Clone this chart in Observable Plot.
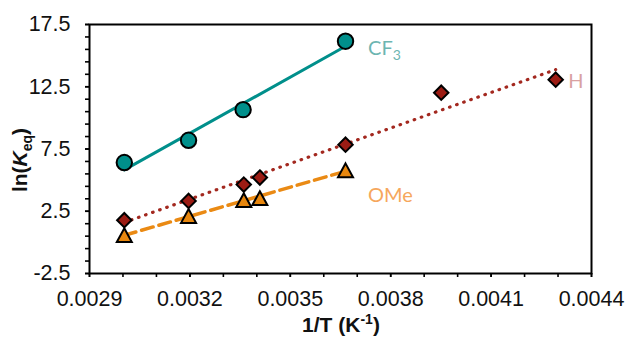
<!DOCTYPE html>
<html><head><meta charset="utf-8">
<script src="https://cdn.jsdelivr.net/npm/d3@7"></script>
<script src="https://cdn.jsdelivr.net/npm/@observablehq/plot@0.6"></script>
<style>
  html,body{margin:0;padding:0;background:#fff}
  #chart{width:627px;height:337px}
</style>
</head><body><div id="chart"></div>
<script>
// ---- data (1/T in K^-1, ln(Keq)) ----
const xTicks = [0.0029, 0.0032, 0.0035, 0.0038, 0.0041, 0.0044];
const xTickLabels = ["0.0029", "0.0032", "0.0035", "0.0038", "0.0041", "0.0044"];
const yTicks = [-2.5, 2.5, 7.5, 12.5, 17.5];
const yTickLabels = ["-2.5", "2.5", "7.5", "12.5", "17.5"];

const seriesNames = ["CF3", "H", "OMe"];

const cf3X = [0.003004, 0.003196, 0.003359, 0.003665];
const cf3Y = [6.41, 8.20, 10.66, 16.16];

const hX = [0.003004, 0.003196, 0.003361, 0.003409, 0.003665, 0.003951, 0.004293];
const hY = [1.78, 3.33, 4.64, 5.21, 7.85, 12.02, 13.07];

const omeX = [0.003004, 0.003196, 0.003361, 0.003409, 0.003665];
const omeY = [0.58, 2.12, 3.39, 3.55, 5.79];

// ---- styles ----
const tealC = "#008f8b", tealLabel = "#6db5b1";
const redFill = "#9c1c14", redLine = "#a3281f", redLabel = "#d9a2a2";
const orFill = "#e8870e", orLine = "#ea8a14", orLabel = "#f6a75c";

const toRows = (xs, ys) => xs.map((x, i) => ({x, y: ys[i]}));
const cf3 = toRows(cf3X, cf3Y), hh = toRows(hX, hY), ome = toRows(omeX, omeY);

const minorX = d3.range(0, 16).map(i => +(0.0029 + i * 0.0001).toFixed(4));
const minorY = d3.range(0, 21).map(i => -2.5 + i);

// triangle centred on its bounding box (as spreadsheet markers are)
const triBox = {
  draw(ctx, size) {
    const r = Math.sqrt(size / Math.PI);
    const hw = 1.25 * r, hh2 = 1.15 * r;
    ctx.moveTo(0, -hh2); ctx.lineTo(hw, hh2); ctx.lineTo(-hw, hh2); ctx.closePath();
  }
};

const chart = Plot.plot({
  width: 627, height: 337,
  marginLeft: 89, marginRight: 36, marginTop: 24, marginBottom: 64,
  x: {domain: [0.0029, 0.0044]},
  y: {domain: [-2.5, 17.5]},
  style: {fontFamily: "'Liberation Sans', Arial, sans-serif", fontSize: "21.5px", color: "#000", background: "#fff"},
  marks: [
    Plot.axisX(minorX, {tickSize: 4, strokeWidth: 1.6, tickFormat: () => "", label: null}),
    Plot.axisX(xTicks, {tickSize: 4, strokeWidth: 1.6, tickPadding: 13, tickFormat: d => xTickLabels[xTicks.indexOf(d)], label: null, fill: "#111"}),
    Plot.axisY(minorY, {tickSize: 4, strokeWidth: 1.6, tickFormat: () => "", label: null}),
    Plot.axisY(yTicks, {tickSize: 4, strokeWidth: 1.6, tickPadding: 15, tickFormat: d => yTickLabels[yTicks.indexOf(d)], label: null, fill: "#111"}),
    Plot.frame({stroke: "#000", strokeWidth: 2}),
    Plot.linearRegressionY(cf3, {x: "x", y: "y", stroke: tealC, strokeWidth: 3, ci: 0}),
    Plot.dot(cf3, {x: "x", y: "y", r: 7.7, symbol: "circle", fill: tealC, stroke: "#000", strokeWidth: 2}),
    Plot.linearRegressionY(hh, {x: "x", y: "y", stroke: redLine, strokeWidth: 3.2, strokeDasharray: "0.6 6.9", strokeLinecap: "round", ci: 0}),
    Plot.dot(hh, {x: "x", y: "y", r: 6.5, symbol: "diamond2", fill: redFill, stroke: "#000", strokeWidth: 2}),
    Plot.linearRegressionY(ome, {x: "x", y: "y", stroke: orLine, strokeWidth: 3.5, strokeDasharray: "12 6", ci: 0}),
    Plot.dot(ome, {x: "x", y: "y", r: 6, symbol: triBox, fill: orFill, stroke: "#000", strokeWidth: 2})
  ]
});
document.getElementById("chart").appendChild(chart);

const svg = d3.select(chart);
const sx = chart.scale("x"), sy = chart.scale("y");
const titleFont = "'Liberation Sans', Arial, sans-serif";

// y-axis title: ln(K_eq)
const yt = svg.append("text")
  .attr("transform", "translate(27,160) rotate(-90)")
  .attr("text-anchor", "middle")
  .attr("font-family", titleFont).attr("font-weight", "bold").attr("font-size", 21).attr("fill", "#111");
yt.append("tspan").text("ln(");
yt.append("tspan").attr("font-style", "italic").text("K");
yt.append("tspan").attr("font-size", 14).attr("dy", 5).text("eq");
yt.append("tspan").attr("dy", -5).text(")");

// x-axis title: 1/T (K^-1)
const xt = svg.append("text")
  .attr("x", 341).attr("y", 332)
  .attr("text-anchor", "middle")
  .attr("font-family", titleFont).attr("font-weight", "bold").attr("font-size", 21).attr("fill", "#111");
xt.append("tspan").text("1/T (K");
xt.append("tspan").attr("font-size", 14).attr("dy", -8).text("-1");
xt.append("tspan").attr("dy", 8).text(")");

// series labels, anchored to each series' last point
const labelFont = "Lato, 'Open Sans', sans-serif";
const lastOf = rows => rows[rows.length - 1];
function seriesLabel(rows, dx, dy, color, parts) {
  const p = lastOf(rows);
  const t = svg.append("text")
    .attr("x", sx.apply(p.x) + dx).attr("y", sy.apply(p.y) + dy)
    .attr("text-anchor", "start")
    .attr("font-family", labelFont).attr("font-size", 20).attr("fill", color);
  parts.forEach(([s, sub]) => {
    const ts = t.append("tspan").text(s);
    if (sub) ts.attr("font-size", 14).attr("dy", 5);
  });
}
seriesLabel(cf3, 23, 14, tealLabel, [[seriesNames[0].slice(0, 2)], [seriesNames[0].slice(2), true]]);
seriesLabel(hh, 13, 9, redLabel, [[seriesNames[1]]]);
seriesLabel(ome, 23, 32, orLabel, [[seriesNames[2]]]);
</script>
</body></html>
